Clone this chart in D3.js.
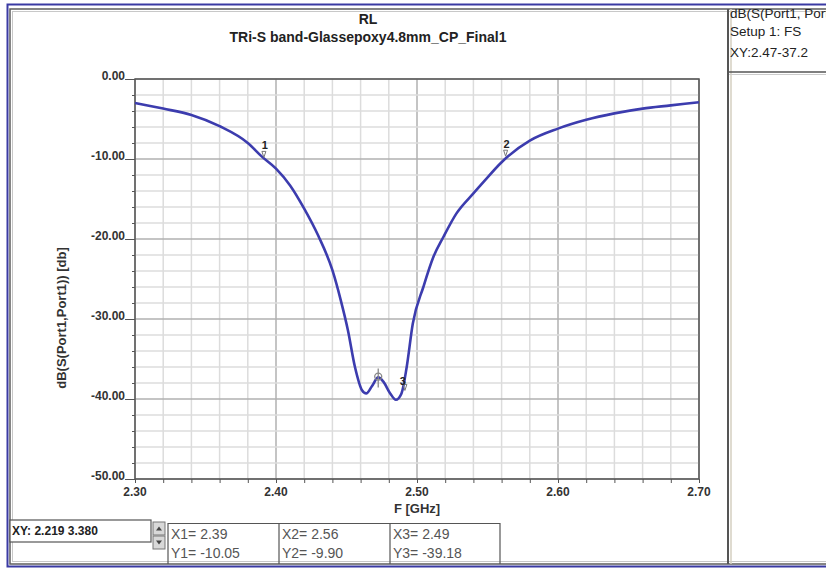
<!DOCTYPE html>
<html><head><meta charset="utf-8">
<script src="https://cdn.jsdelivr.net/npm/d3@7/dist/d3.min.js"></script>
<style>body{margin:0;background:#fff}svg{display:block;font-family:Arial,"Liberation Sans",sans-serif}</style>
</head><body><svg id="c" width="826" height="568"></svg>
<script>
// ---- data ----
const freq = [2.30,2.32,2.34,2.36,2.38,2.39,2.40,2.41,2.42,2.43,2.44,2.446,2.451,2.456,2.461,2.464,2.468,2.4725,2.476,2.481,2.485,2.489,2.4927,2.497,2.5045,2.5116,2.5187,2.528,2.54,2.548,2.56,2.565,2.58,2.60,2.62,2.64,2.66,2.68,2.70];
const s11  = [-3.0,-3.7,-4.5,-5.9,-8.0,-9.7,-11.2,-13.3,-16.2,-19.6,-23.9,-27.7,-31.4,-36.0,-38.9,-39.3,-38.4,-37.3,-37.8,-39.3,-40.1,-39.3,-36.0,-30.6,-26.0,-22.25,-19.75,-16.8,-14.3,-12.7,-10.4,-9.6,-7.7,-6.2,-5.1,-4.3,-3.7,-3.3,-2.9];
const xTicks = [2.30,2.40,2.50,2.60,2.70];
const yTicks = [0,-10,-20,-30,-40,-50];
const markerNames = ["1","2","3"];
const markerF = [2.39,2.56,2.49];
const markerV = [-10.05,-9.90,-39.18];
const cursorF = 2.4725, cursorV = -37.2;
const titleLines = ["RL","TRi-S band-Glassepoxy4.8mm_CP_Final1"];
const infoLines = ["dB(S(Port1, Port1))","Setup 1: FS","XY:2.47-37.2"];
const xyReadout = "XY: 2.219 3.380";
const xLabel = "F [GHz]", yLabel = "dB(S(Port1,Port1)) [db]";

// ---- layout ----
const svg = d3.select("#c");
const L = 135, R = 699, T = 79, B = 479;
const x = d3.scaleLinear().domain([2.30,2.70]).range([L,R]);
const y = d3.scaleLinear().domain([-50,0]).range([B,T]);

// frames
svg.append("rect").attr("x",7.5).attr("y",4.5).attr("width",840).attr("height",562).attr("fill","none").attr("stroke","#3a3aa3").attr("stroke-width",2);
svg.append("rect").attr("x",10).attr("y",9).attr("width",840).attr("height",555).attr("fill","none").attr("stroke","#5e5e5e").attr("stroke-width",1.5);
svg.append("rect").attr("x",12.5).attr("y",11.5).attr("width",840).attr("height",550).attr("fill","none").attr("stroke","#c8c8c8").attr("stroke-width",1);

// right panel
svg.append("line").attr("x1",728).attr("x2",728).attr("y1",9).attr("y2",564).attr("stroke","#555").attr("stroke-width",2);
svg.append("line").attr("x1",731).attr("x2",731).attr("y1",9).attr("y2",564).attr("stroke","#d4cfc0").attr("stroke-width",1.5);
svg.append("line").attr("x1",729).attr("x2",826).attr("y1",72).attr("y2",72).attr("stroke","#555").attr("stroke-width",1.5);
svg.append("line").attr("x1",729).attr("x2",826).attr("y1",74.5).attr("y2",74.5).attr("stroke","#ccc").attr("stroke-width",1);
svg.append("clipPath").attr("id","pc").append("rect").attr("x",729).attr("y",9).attr("width",97).attr("height",60);
svg.append("g").attr("clip-path","url(#pc)").selectAll(".info").data(infoLines).join("text")
  .attr("x",730).attr("y",(d,i)=>[18,36,57][i]).attr("font-size",13.5).attr("fill","#222")
  .text(d=>d);

// titles
svg.selectAll(".ttl").data(titleLines).join("text")
  .attr("x",368).attr("y",(d,i)=>[24,42][i]).attr("text-anchor","middle")
  .attr("font-size",14).attr("font-weight","bold").attr("fill","#222").text(d=>d);

// grid
const xMinor = d3.range(2.30,2.7001,0.02);
const yMinor = d3.range(-50,0.001,2);
const g = svg.append("g");
g.selectAll(".vx").data(xMinor).join("line")
  .attr("x1",d=>x(d)).attr("x2",d=>x(d)).attr("y1",T).attr("y2",B)
  .attr("stroke",(d,i)=>i%5===0?"#b0b0b0":"#dcdcdc").attr("stroke-width",1.5);
g.selectAll(".hy").data(yMinor).join("line")
  .attr("y1",d=>y(d)).attr("y2",d=>y(d)).attr("x1",L).attr("x2",R)
  .attr("stroke",(d,i)=>i%5===0?"#b0b0b0":"#dcdcdc").attr("stroke-width",1.5);

// axes
const ax = svg.append("g").attr("transform",`translate(0,${B})`)
  .call(d3.axisBottom(x).tickValues(xMinor).tickSize(4).tickFormat(""));
ax.select(".domain").remove();
ax.selectAll("line").attr("stroke","#555");
const ay = svg.append("g").attr("transform",`translate(${L},0)`)
  .call(d3.axisLeft(y).tickValues(yMinor).tickSize(3).tickFormat(""));
ay.select(".domain").remove();
ay.selectAll("line").attr("stroke","#555");
ay.selectAll(".tick").filter(d=>yTicks.includes(Math.round(d))).select("line").attr("x2",-10);
svg.append("rect").attr("x",L).attr("y",T).attr("width",R-L).attr("height",B-T).attr("fill","none").attr("stroke","#555").attr("stroke-width",1.5);

svg.selectAll(".xl").data(xTicks).join("text")
  .attr("x",d=>x(d)).attr("y",B+17).attr("text-anchor","middle")
  .attr("font-size",12).attr("font-weight","bold").attr("fill","#333").text(d=>d.toFixed(2));
svg.selectAll(".yl").data(yTicks).join("text")
  .attr("x",L-10).attr("y",d=>y(d)+1).attr("text-anchor","end")
  .attr("font-size",12).attr("font-weight","bold").attr("fill","#333").text(d=>d.toFixed(2));
svg.append("text").attr("x",417).attr("y",513).attr("text-anchor","middle")
  .attr("font-size",13).attr("font-weight","bold").attr("fill","#333").text(xLabel);
svg.append("text").attr("transform","translate(66,318) rotate(-90)").attr("text-anchor","middle")
  .attr("font-size",13).attr("font-weight","bold").attr("fill","#333").text(yLabel);

// curve
const line = d3.line().x(d=>x(d[0])).y(d=>y(d[1])).curve(d3.curveMonotoneX);
svg.append("path").datum(freq.map((f,i)=>[f,s11[i]])).attr("d",line)
  .attr("fill","none").attr("stroke","#3c3cae").attr("stroke-width",2.6);

// markers
const mk = svg.selectAll(".mk").data(markerNames).join("g")
  .attr("transform",(d,i)=>`translate(${x(markerF[i])+(i===1?4:2)},${y(markerV[i])-4})`);
mk.append("path").attr("d","M-2,-4 L2,-4 L0,2 Z").attr("fill","none").attr("stroke","#777").attr("stroke-width",1);
mk.append("text").attr("x",(d,i)=>i===2?-2:1).attr("y",(d,i)=>i===2?-3:-6).attr("text-anchor","middle")
  .attr("font-size",11).attr("font-weight","bold").attr("fill","#222").text(d=>d);

// cursor
const cx = x(cursorF), cy = y(cursorV);
svg.append("circle").attr("cx",cx).attr("cy",cy).attr("r",3.5).attr("fill","none").attr("stroke","#888").attr("stroke-width",1.3);
svg.append("line").attr("x1",cx).attr("x2",cx).attr("y1",cy-8).attr("y2",cy+11).attr("stroke","#888").attr("stroke-width",1.3);

// bottom readouts
svg.append("rect").attr("x",10).attr("y",520).attr("width",141).attr("height",22).attr("fill","#fff").attr("stroke","#555").attr("stroke-width",1.2);
svg.append("text").attr("x",12).attr("y",535).attr("font-size",12).attr("font-weight","bold").attr("fill","#222").text(xyReadout);
// spinner
[[522,"M-3,2 L3,2 L0,-2 Z"],[536,"M-3,-2 L3,-2 L0,2 Z"]].forEach(([yy,p])=>{
  svg.append("rect").attr("x",153).attr("y",yy).attr("width",12).attr("height",13).attr("fill","#d8d8d8").attr("stroke","#777");
  svg.append("path").attr("transform",`translate(159,${yy+6.5})`).attr("d",p).attr("fill","#444");
});
const cells = [["X1= "+markerF[0].toFixed(2),"Y1= "+markerV[0].toFixed(2)],
               ["X2= "+markerF[1].toFixed(2),"Y2= "+markerV[1].toFixed(2)],
               ["X3= "+markerF[2].toFixed(2),"Y3= "+markerV[2].toFixed(2)]];
const cellX = [168,279,390,500];
svg.append("line").attr("x1",168).attr("x2",500).attr("y1",523.5).attr("y2",523.5).attr("stroke","#555").attr("stroke-width",1.2);
cellX.forEach(cxx=>svg.append("line").attr("x1",cxx).attr("x2",cxx).attr("y1",523).attr("y2",564).attr("stroke","#555").attr("stroke-width",1.2));
cells.forEach((c,i)=>{
  svg.append("text").attr("x",cellX[i]+3).attr("y",539).attr("font-size",14).attr("fill","#555").text(c[0]);
  svg.append("text").attr("x",cellX[i]+3).attr("y",558).attr("font-size",14).attr("fill","#555").text(c[1]);
});
</script></body></html>
